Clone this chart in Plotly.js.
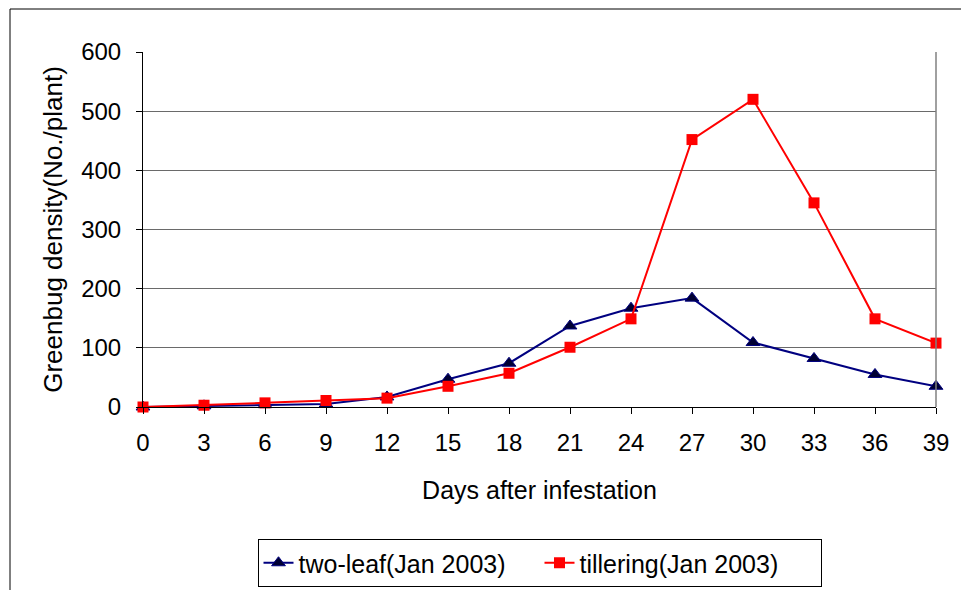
<!DOCTYPE html>
<html><head><meta charset="utf-8">
<script src="https://cdn.plot.ly/plotly-3.0.1.min.js"></script>
<style>body{margin:0;padding:0;background:#fff}#chart{width:961px;height:590px}</style>
</head><body><div id="chart"></div>
<script>
const days = [0,3,6,9,12,15,18,21,24,27,30,33,36,39];
const twoLeaf = [0,2,4,5,17,47,74,137,167,184,109,82,55,35];
const tillering = [0,3,7,11,15,35,57,101,149,452,520,345,149,108];
const yTicks = [0,100,200,300,400,500,600];

const F = 'Liberation Sans, Arial, sans-serif';
const traces = [
  {x: days, y: twoLeaf, name: 'two-leaf(Jan 2003)', type: 'scatter', mode: 'lines+markers',
   line: {color: '#000080', width: 2},
   marker: {symbol: 'triangle-up', size: 12, color: '#000033', line: {color: '#000080', width: 1}},
   cliponaxis: false},
  {x: days, y: tillering, name: 'tillering(Jan 2003)', type: 'scatter', mode: 'lines+markers',
   line: {color: '#ff0000', width: 2},
   marker: {symbol: 'square', size: 11, color: '#ff0000'},
   cliponaxis: false}
];
const layout = {
  width: 961, height: 590,
  margin: {l: 143, r: 25, t: 52, b: 183},
  paper_bgcolor: '#fff', plot_bgcolor: '#fff',
  font: {family: F, size: 24, color: '#000'},
  showlegend: true,
  legend: {orientation: 'h', x: 0.5, xanchor: 'center', xref: 'paper',
           y: 1 - 539/590, yanchor: 'top', yref: 'container',
           bordercolor: '#000', borderwidth: 1, font: {family: F, size: 25, color: '#000'},
           entrywidth: 236, tracegroupgap: 0},
  xaxis: {range: [0, 39], tickvals: days, ticktext: days.map(String), showgrid: false, zeroline: false,
          showline: true, linecolor: '#000', linewidth: 1, ticks: 'outside', ticklen: 6, tickcolor: '#000',
          tickfont: {family: F, size: 24}, ticklabelstandoff: 8, fixedrange: true, automargin: false,
          title: {text: 'Days after infestation', font: {family: F, size: 25}, standoff: 26}},
  yaxis: {range: [0, 600], tickvals: yTicks, showgrid: true, gridcolor: '#6a6a6a', gridwidth: 1, zeroline: false,
          showline: true, linecolor: '#000', linewidth: 1, ticks: 'outside', ticklen: 6, tickcolor: '#000',
          tickfont: {family: F, size: 24}, ticklabelstandoff: 10, fixedrange: true, automargin: false,
          title: {text: 'Greenbug density(No./plant)', font: {family: F, size: 26}, standoff: 11}},
  shapes: [
    {type: 'line', xref: 'paper', yref: 'paper', x0: 1, x1: 1, y0: 0, y1: 1, line: {color: '#808080', width: 1.5}},
    {type: 'rect', xref: 'paper', yref: 'paper', x0: (10-143)/793, x1: (975-143)/793,
     y0: (407-600)/355, y1: (407-9)/355, line: {color: '#000', width: 1}, fillcolor: 'rgba(0,0,0,0)', layer: 'below'}
  ]
};
Plotly.newPlot('chart', traces, layout, {displayModeBar: false, staticPlot: true});
</script></body></html>
